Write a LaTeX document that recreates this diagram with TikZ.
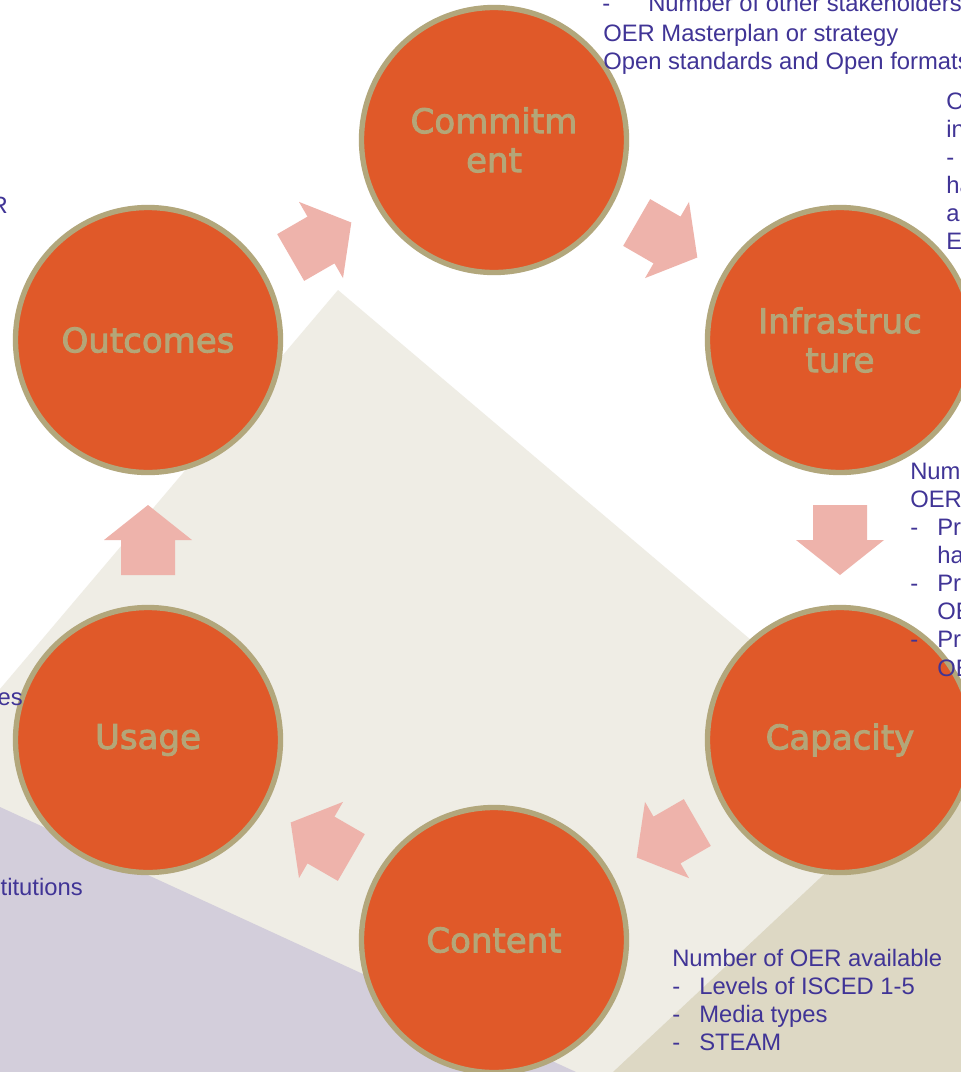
\documentclass[tikz,border=0pt]{standalone}
\usepackage{fontspec}
\setmainfont{Liberation Sans}
\newfontfamily\labelfont[FakeBold=2.6]{DejaVu Sans}
\usetikzlibrary{calc}
\definecolor{orangefill}{RGB}{224,89,41}
\definecolor{khaki}{RGB}{178,167,124}
\definecolor{labelkhaki}{RGB}{180,166,120}
\definecolor{indigo}{RGB}{64,52,150}
\definecolor{pinkarrow}{RGB}{238,179,171}
\definecolor{lightbeige}{RGB}{239,237,229}
\definecolor{darkbeige}{RGB}{221,216,196}
\definecolor{lavender}{RGB}{211,206,219}
\newcommand\flowarrow[3]{%
  \fill[flow, shift={($(#1)!0.5!(#2)$)}, rotate=#3]
    (-35,-27) -- (0,-27) -- (0,-44) -- (35,0) -- (0,44) -- (0,27) -- (-35,27) -- cycle;}
\begin{document}
\begin{tikzpicture}[x=0.75pt,y=-0.75pt,
  stage/.style={circle, fill=orangefill, draw=khaki, line width=4pt,
    minimum size=198.75pt, inner sep=0pt, text=labelkhaki, align=center,
    font=\labelfont\fontsize{25.5}{29.25}\selectfont},
  txt/.style={anchor=base west, inner sep=0pt, text=indigo,
    font=\fontsize{17.85}{21}\selectfont},
  cuttxt/.style={txt, anchor=base east},
  flow/.style={fill=pinkarrow}]
\useasboundingbox (0,0) rectangle (961,1072);
% background
\fill[white] (0,0) rectangle (961,1072);
\fill[lightbeige] (338,290) -- (0,689) -- (0,1072) -- (961,1072) -- (961,818) -- cycle;
\fill[darkbeige] (962,745) -- (613,1072) -- (961,1072) -- cycle;
\fill[lavender] (0,807) -- (576,1072) -- (0,1072) -- cycle;
% stages
\node[stage] (commit) at (494,140) {Commitm\\ent};
\node[stage] (infra)  at (840,340) {Infrastruc\\ture};
\node[stage] (capac)  at (840,740) {Capacity};
\node[stage] (content) at (494,940) {Content};
\node[stage] (usage)  at (148,740) {Usage};
\node[stage] (outc)   at (148,340) {Outcomes};
% flow arrows
\flowarrow{commit}{infra}{-30}
\flowarrow{infra}{capac}{-90}
\flowarrow{capac}{content}{-150}
\flowarrow{content}{usage}{150}
\flowarrow{usage}{outc}{90}
\flowarrow{outc}{commit}{30}
% commitment text
\node[txt] (c0d) at (602,11) {-};
\node[txt] (c0) at (648,11) {Number of other stakeholders};
\node[txt] (c1) at (603,41) {OER Masterplan or strategy};
\node[txt] (c2) at (603,69) {Open standards and Open formats};
% infrastructure text
\node[txt] (i1) at (946,109) {O};
\node[txt] (i2) at (946,137) {in};
\node[txt] (i3) at (946,165) {-};
\node[txt] (i4) at (946,193) {ha};
\node[txt] (i5) at (946,221) {an};
\node[txt] (i6) at (946,249) {E};
% capacity text
\node[txt] (k1) at (910,479) {Num};
\node[txt] (k2) at (910,507) {OER};
\node[txt] (k3d) at (910,535) {-};
\node[txt] (k3) at (937,535) {Pr};
\node[txt] (k4) at (937,563) {ha};
\node[txt] (k5d) at (910,591) {-};
\node[txt] (k5) at (937,591) {Pr};
\node[txt] (k6) at (937,619) {OE};
\node[txt] (k7d) at (910,647) {-};
\node[txt] (k7) at (937,647) {Pr};
\node[txt] (k8) at (937,676) {OE};
% content text
\node[txt] (t1) at (672,966) {Number of OER available};
\node[txt] (t2d) at (672,994) {-};
\node[txt] (t2) at (699,994) {Levels of ISCED 1-5};
\node[txt] (t3d) at (672,1022) {-};
\node[txt] (t3) at (699,1022) {Media types};
\node[txt] (t4d) at (672,1050) {-};
\node[txt] (t4) at (699,1050) {STEAM};
% left cut texts
\node[cuttxt] (l1) at (8,213) {R};
\node[cuttxt] (l2) at (23,705) {es};
\node[cuttxt] (l3) at (83,895) {titutions};
\end{tikzpicture}
\end{document}
